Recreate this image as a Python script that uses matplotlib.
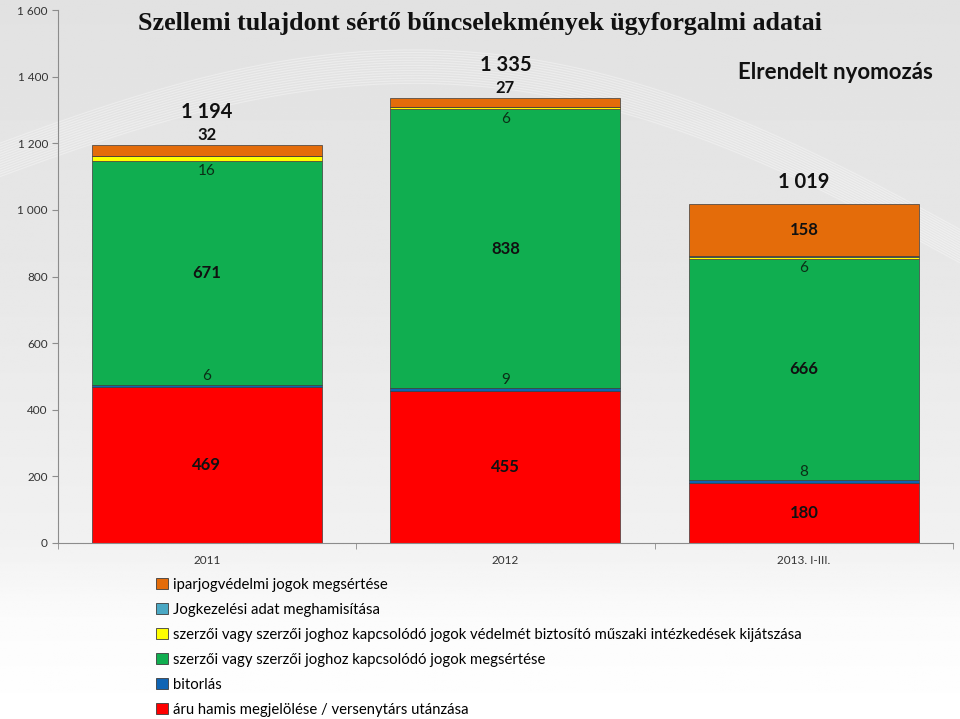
import numpy as np
import matplotlib
matplotlib.use('Agg')
import matplotlib.pyplot as plt
from matplotlib.patches import Patch
from matplotlib.ticker import FixedLocator, FuncFormatter

# Data
categories = ['2011', '2012', '2013. I-III.']
aru_hamis = [469, 455, 180]
bitorlas = [6, 9, 8]
szerzoi_megsert = [671, 838, 666]
szerzoi_kijatsz = [16, 6, 6]
jogkezelesi = [0, 0, 1]
iparjog = [32, 27, 158]
totals = [1194, 1335, 1019]

series_names = [
    'áru hamis megjelölése / versenytárs utánzása',
    'bitorlás',
    'szerzői vagy szerzői joghoz kapcsolódó jogok megsértése',
    'szerzői vagy szerzői joghoz kapcsolódó jogok védelmét biztosító műszaki intézkedések kijátszása',
    'Jogkezelési adat meghamisítása',
    'iparjogvédelmi jogok megsértése',
]
series_values = [aru_hamis, bitorlas, szerzoi_megsert, szerzoi_kijatsz, jogkezelesi, iparjog]
series_colors = ['#ff0000', '#0f64b4', '#10ae50', '#ffff00', '#4aa8c4', '#e46c0a']

plt.rcParams['font.family'] = ['Lato', 'DejaVu Sans']

fig = plt.figure(figsize=(9.6, 7.19), dpi=100)

# soft grey background fading to white at the bottom
bg = fig.add_axes([0, 0, 1, 1], zorder=0)
rows = np.linspace(0, 1, 400)
shade = np.interp(rows, [0, 0.35, 0.75, 0.86, 1.0], [0.885, 0.905, 0.945, 0.985, 1.0])
bg.imshow(shade[:, None] * np.ones((1, 10)), cmap='gray', vmin=0, vmax=1,
          aspect='auto', extent=[0, 1, 0, 1], origin='upper')
# a few light swoosh lines
t = np.linspace(0, 1, 200)
for k in range(14):
    bg.plot(t, 0.72 + 0.05 * k / 14 + 0.22 * np.sin(np.pi * (t * 0.9 + 0.05)) - 0.12 * t,
            color='white', lw=0.8, alpha=0.35)
bg.set_xlim(0, 1)
bg.set_ylim(0, 1)
bg.axis('off')

ax = fig.add_axes([0.060, 0.2448, 0.933, 0.7412], zorder=1)
ax.patch.set_alpha(0)

x = np.arange(len(categories))
width = 0.77
bottom = np.zeros(len(categories))
bottoms = []
for vals, col in zip(series_values, series_colors):
    ax.bar(x, vals, width, bottom=bottom, color=col, edgecolor='#3c3c3c', linewidth=0.5, zorder=2)
    bottoms.append(bottom.copy())
    bottom = bottom + np.array(vals)

# segment labels
for i in range(len(categories)):
    # big segments: centred, bold
    for s in (0, 2):
        ax.text(x[i], bottoms[s][i] + series_values[s][i] / 2, str(series_values[s][i]),
                ha='center', va='center', fontsize=12, fontweight='bold', color='#111111', zorder=3)
    # bitorlás: just above its thin band
    ax.annotate(str(bitorlas[i]), (x[i], bottoms[1][i] + bitorlas[i]), xytext=(0, 1),
                textcoords='offset points', ha='center', va='bottom', fontsize=11,
                color='#0b2e16', zorder=3)
    # kijátszás: just below its band, inside the green
    ax.annotate(str(szerzoi_kijatsz[i]), (x[i], bottoms[3][i]), xytext=(0, -2),
                textcoords='offset points', ha='center', va='top', fontsize=11,
                color='#0b2e16', zorder=3)
    # iparjog
    if iparjog[i] > 100:
        ax.text(x[i], bottoms[5][i] + iparjog[i] / 2, str(iparjog[i]), ha='center', va='center',
                fontsize=12, fontweight='bold', color='#111111', zorder=3)
        tot_off = 8
    else:
        ax.annotate(str(iparjog[i]), (x[i], totals[i]), xytext=(0, 1.5), textcoords='offset points',
                    ha='center', va='bottom', fontsize=12, fontweight='bold', color='#111111', zorder=3)
        tot_off = 17
    ax.annotate(f'{totals[i]:,}'.replace(',', ' '), (x[i], totals[i]), xytext=(0, tot_off),
                textcoords='offset points', ha='center', va='bottom', fontsize=14.5,
                fontweight='bold', color='#111111', zorder=3)

ax.set_xlim(-0.5, 2.5)
ax.set_ylim(0, 1600)
ax.yaxis.set_major_locator(FixedLocator(range(0, 1601, 200)))
ax.yaxis.set_major_formatter(FuncFormatter(lambda v, p: f'{int(v):,}'.replace(',', ' ')))
ax.set_xticks(x)
ax.set_xticklabels(categories)
ax.xaxis.set_minor_locator(FixedLocator([-0.5, 0.5, 1.5, 2.5]))
ax.tick_params(axis='x', which='major', length=0, pad=9, labelsize=8.5, labelcolor='#333333')
ax.tick_params(axis='x', which='minor', length=4, color='#8c8c8c', direction='out')
ax.tick_params(axis='y', length=4, color='#8c8c8c', labelsize=8.5, labelcolor='#333333', pad=3)
for side in ('top', 'right'):
    ax.spines[side].set_visible(False)
for side in ('left', 'bottom'):
    ax.spines[side].set_color('#8c8c8c')
    ax.spines[side].set_linewidth(0.8)

fig.text(0.5, 0.968, 'Szellemi tulajdont sértő bűncselekmények ügyforgalmi adatai',
         ha='center', va='center', fontsize=18.7, fontweight='bold',
         family=['Liberation Serif', 'DejaVu Serif'], color='#111111')
fig.text(0.972, 0.899, 'Elrendelt nyomozás', ha='right', va='center', fontsize=16,
         fontweight='bold', color='#111111')

handles = [Patch(facecolor=c, edgecolor='#3c3c3c', linewidth=0.6, label=n)
           for c, n in zip(series_colors, series_names)]
fig.legend(handles=handles[::-1], loc='upper left', bbox_to_anchor=(0.163, 1 - 578 / 719),
           frameon=False, fontsize=10.7, handlelength=0.75, handleheight=0.75,
           handletextpad=0.35, labelspacing=0.74, borderpad=0, borderaxespad=0)

fig.savefig('out.png', dpi=100)
